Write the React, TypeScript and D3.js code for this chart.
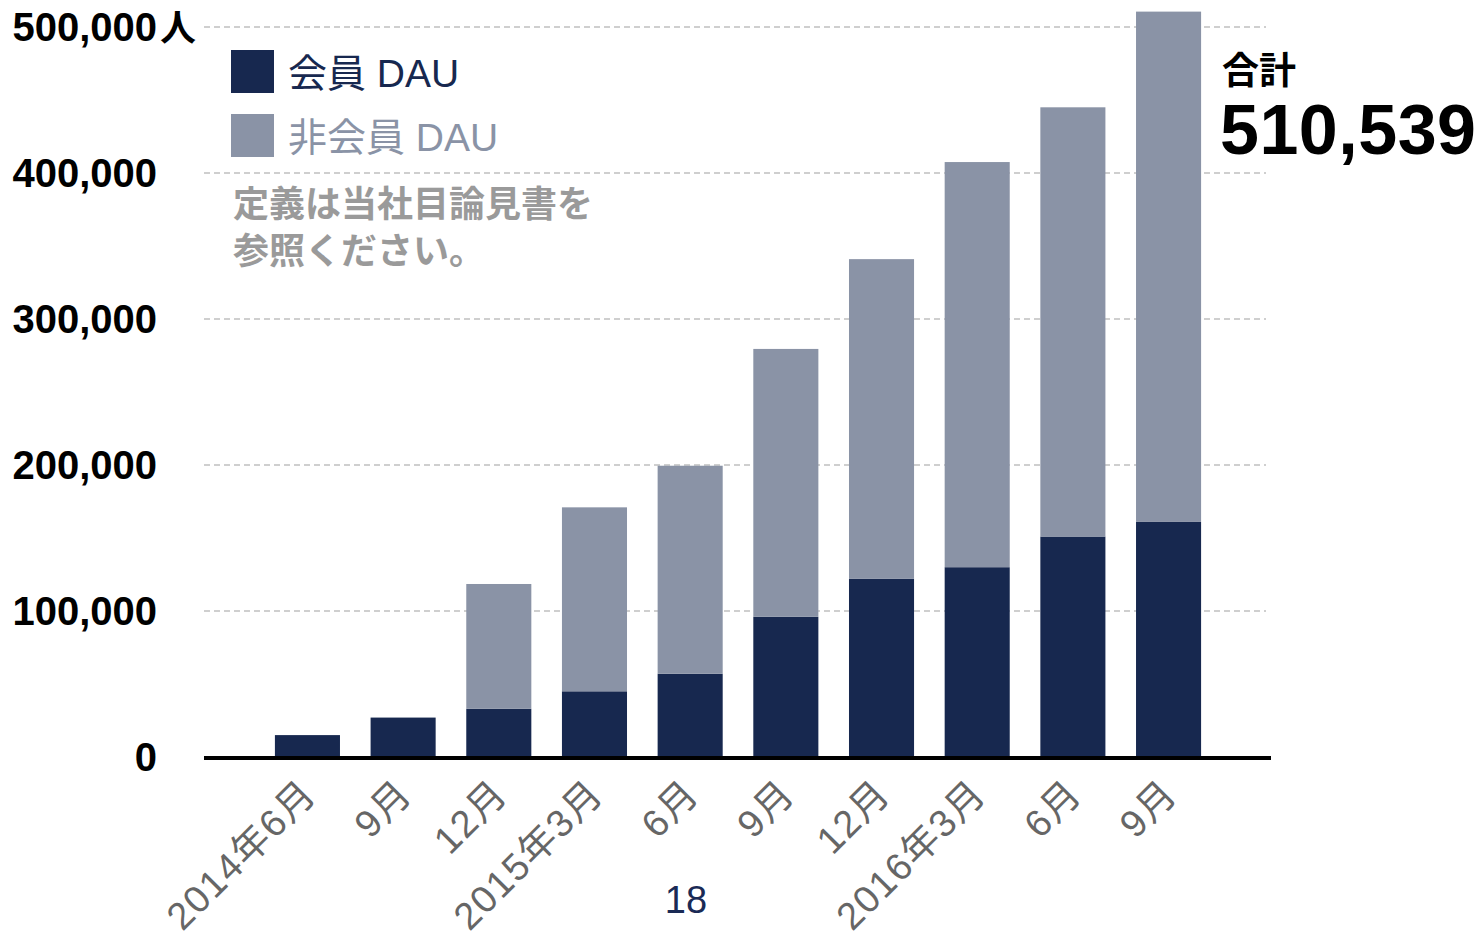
import React, { useRef, useEffect } from 'react';
import * as d3 from 'd3';

const periods = ['2014年6月', '9月', '12月', '2015年3月', '6月', '9月', '12月', '2016年3月', '6月', '9月'];
const memberDau = [15000, 27000, 33000, 45000, 57000, 96000, 122000, 130000, 151000, 161000];
const nonMemberDau = [0, 0, 85500, 126000, 142500, 183500, 219000, 277500, 294000, 349539];
const yTicks = [0, 100000, 200000, 300000, 400000, 500000];
const seriesNames = ['会員 DAU', '非会員 DAU'];
const noteLines = ['定義は当社目論見書を', '参照ください。'];
const pageNumber = '18';

const NAVY = '#17284f';
const SLATE = '#8a93a6';
const LATIN = '"Liberation Sans", Arial, "Noto Sans CJK JP", sans-serif';

export default function App() {
  const ref = useRef<SVGSVGElement | null>(null);

  useEffect(() => {
    if (!ref.current) return;
    const svg = d3.select(ref.current);
    svg.selectAll('*').remove();

    const x = d3.scaleBand<number>()
      .domain(d3.range(periods.length))
      .range([259.6, 1216.4])
      .paddingInner(0.32)
      .paddingOuter(0.16);
    const y = d3.scaleLinear().domain([0, 500000]).range([757, 27]);

    // gridlines
    svg.append('g')
      .selectAll('line')
      .data(yTicks.filter(d => d > 0))
      .join('line')
      .attr('x1', 204).attr('x2', 1266)
      .attr('y1', d => y(d)).attr('y2', d => y(d))
      .attr('stroke', '#cfcfcf')
      .attr('stroke-width', 2)
      .attr('stroke-dasharray', '6,4');

    // y tick labels
    const fmt = d3.format(',');
    svg.append('g')
      .selectAll('text')
      .data(yTicks)
      .join('text')
      .attr('x', 157)
      .attr('y', d => y(d) + 14)
      .attr('text-anchor', 'end')
      .attr('font-family', LATIN)
      .attr('font-weight', 'bold')
      .attr('font-size', 40)
      .attr('fill', '#000')
      .text(d => fmt(d));
    svg.append('text')
      .attr('x', 160)
      .attr('y', y(500000) + 14)
      .attr('font-family', '"Noto Sans CJK JP", sans-serif')
      .attr('font-weight', 'bold')
      .attr('font-size', 36)
      .attr('fill', '#000')
      .text('人');

    // stacked bars
    const bars = svg.append('g');
    bars.selectAll('rect.member')
      .data(memberDau)
      .join('rect')
      .attr('class', 'member')
      .attr('x', (_, i) => x(i)!)
      .attr('width', x.bandwidth())
      .attr('y', d => y(d))
      .attr('height', d => y(0) - y(d))
      .attr('fill', NAVY);
    bars.selectAll('rect.non')
      .data(nonMemberDau)
      .join('rect')
      .attr('class', 'non')
      .attr('x', (_, i) => x(i)!)
      .attr('width', x.bandwidth())
      .attr('y', (d, i) => y(memberDau[i] + d))
      .attr('height', d => y(0) - y(d))
      .attr('fill', SLATE);

    // baseline
    svg.append('line')
      .attr('x1', 204).attr('x2', 1271)
      .attr('y1', 758).attr('y2', 758)
      .attr('stroke', '#000')
      .attr('stroke-width', 4);

    // x labels
    svg.append('g')
      .selectAll('text')
      .data(periods)
      .join('text')
      .attr('transform', (_, i) => `translate(${x(i)! + x.bandwidth() / 2 + 11},796) rotate(-45)`)
      .attr('text-anchor', 'end')
      .attr('font-family', LATIN)
      .attr('font-size', 38)
      .attr('letter-spacing', 1.5)
      .attr('fill', '#666')
      .text(d => d);

    // legend
    const legend = svg.append('g');
    [NAVY, SLATE].forEach((c, i) => {
      legend.append('rect')
        .attr('x', 231).attr('y', 50 + i * 64)
        .attr('width', 43).attr('height', 43)
        .attr('fill', c);
      legend.append('text')
        .attr('x', 288).attr('y', 87 + i * 64)
        .attr('font-family', LATIN)
        .attr('font-size', 39)
        .attr('fill', c)
        .text(seriesNames[i]);
    });

    // note
    svg.append('g')
      .selectAll('text')
      .data(noteLines)
      .join('text')
      .attr('x', 233)
      .attr('y', (_, i) => 217 + i * 47)
      .attr('font-family', '"Noto Sans CJK JP", sans-serif')
      .attr('font-weight', 'bold')
      .attr('font-size', 36)
      .attr('fill', '#9a9a9a')
      .text(d => d);

    // total annotation
    const last = periods.length - 1;
    const total = memberDau[last] + nonMemberDau[last];
    svg.append('text')
      .attr('x', 1222).attr('y', 84)
      .attr('font-family', '"Noto Sans CJK JP", sans-serif')
      .attr('font-weight', 'bold')
      .attr('font-size', 37)
      .attr('fill', '#000')
      .text('合計');
    svg.append('text')
      .attr('x', 1220).attr('y', 154)
      .attr('font-family', LATIN)
      .attr('font-weight', 'bold')
      .attr('font-size', 70)
      .attr('letter-spacing', 0.5)
      .attr('fill', '#000')
      .text(fmt(total));

    // page number
    svg.append('text')
      .attr('x', 686).attr('y', 913)
      .attr('text-anchor', 'middle')
      .attr('font-family', LATIN)
      .attr('font-size', 38)
      .attr('fill', '#1a2a55')
      .text(pageNumber);
  }, []);

  return (
    <svg
      ref={ref}
      width={1482}
      height={940}
      style={{ position: 'absolute', left: 0, top: 0, display: 'block', background: '#fff' }}
    />
  );
}
